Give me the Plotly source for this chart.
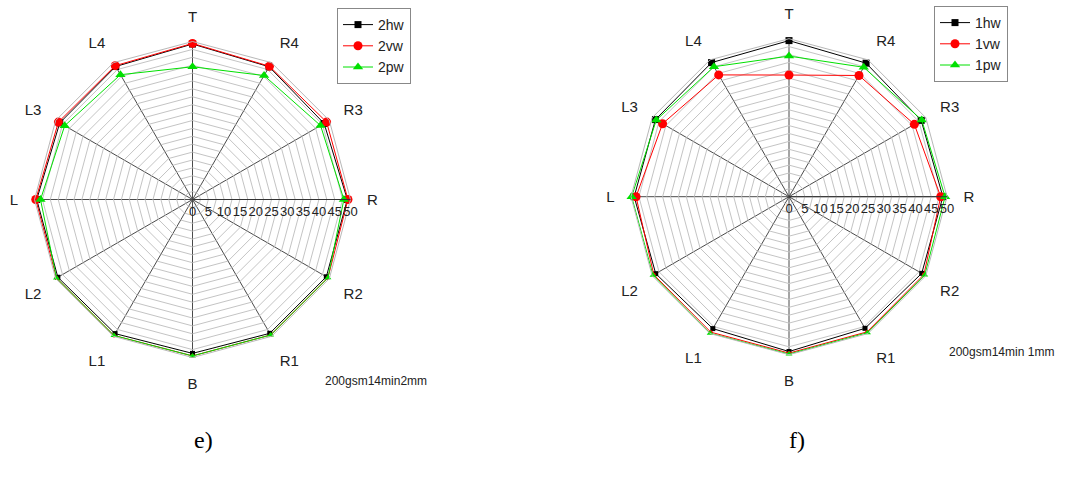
import plotly.graph_objects as go

categories = ["T", "R4", "R3", "R", "R2", "R1", "B", "L1", "L2", "L", "L3", "L4"]
radial_ticks = [0, 2.5, 5, 7.5, 10, 12.5, 15, 17.5, 20, 22.5, 25, 27.5, 30,
                32.5, 35, 37.5, 40, 42.5, 45, 47.5, 50]
radial_text = ["0", "", "5", "", "10", "", "15", "", "20", "", "25", "", "30",
               "", "35", "", "40", "", "45", "", "50"]

e_names = ["2hw", "2vw", "2pw"]
e_hw = [49.2, 48.5, 48.1, 49.0, 48.9, 48.9, 48.7, 49.0, 49.2, 49.3, 48.5, 48.6]
e_vw = [49.4, 48.7, 49.0, 49.2, 49.5, 49.5, 49.5, 49.7, 49.7, 49.6, 49.0, 48.9]
e_pw = [42.0, 45.3, 46.8, 47.9, 49.5, 49.5, 49.5, 49.7, 49.7, 48.1, 46.7, 45.6]

f_names = ["1hw", "1vw", "1pw"]
f_hw = [49.4, 48.8, 48.3, 48.7, 48.5, 48.1, 49.0, 48.2, 48.7, 49.0, 48.8, 49.0]
f_vw = [38.5, 44.3, 45.8, 48.0, 49.3, 49.4, 49.5, 49.5, 49.4, 48.4, 46.2, 44.5]
f_pw = [44.5, 47.3, 48.5, 49.4, 49.6, 49.7, 49.8, 49.9, 49.7, 49.8, 48.5, 47.5]

# marker styling (lower-half markers appear smaller in the reference)
styles = [
    dict(color="#000000", symbol="square", size=7, small=5),
    dict(color="#ff0000", symbol="circle", size=9, small=4),
    dict(color="#00e000", symbol="triangle-up", size=9, small=6),
]

# upper run (L .. L4, T .. R) and lower run (R .. L) in category index order
upper_idx = [9, 10, 11, 0, 1, 2, 3]
lower_idx = [3, 4, 5, 6, 7, 8, 9]

fig = go.Figure()

for names, series, polar, legend in [
    (e_names, [e_hw, e_vw, e_pw], "polar", "legend"),
    (f_names, [f_hw, f_vw, f_pw], "polar2", "legend2"),
]:
    for name, vals, st in zip(names, series, styles):
        fig.add_trace(go.Scatterpolar(
            r=[vals[i] for i in upper_idx], theta=[categories[i] for i in upper_idx],
            name=name, mode="lines+markers", legendgroup=polar + name,
            line=dict(color=st["color"], width=1),
            marker=dict(color=st["color"], symbol=st["symbol"], size=st["size"]),
            subplot=polar, legend=legend,
        ))
        fig.add_trace(go.Scatterpolar(
            r=[vals[i] for i in lower_idx], theta=[categories[i] for i in lower_idx],
            name=name, mode="lines+markers", legendgroup=polar + name, showlegend=False,
            line=dict(color=st["color"], width=1),
            marker=dict(color=st["color"], symbol=st["symbol"], size=st["small"]),
            subplot=polar, legend=legend,
        ))

W, H = 1090, 483

def px(x):
    return x / W

def py(y):
    return 1 - y / H

def dom(cx, cy, rad):
    return dict(x=[px(cx - rad), px(cx + rad)],
                y=[py(cy + rad), py(cy - rad)])

font = "Liberation Sans, Arial, sans-serif"

def polar_layout(d):
    return dict(
        domain=d,
        gridshape="linear",
        bgcolor="white",
        radialaxis=dict(
            range=[0, 50], angle=0, side="clockwise",
            tickvals=radial_ticks, ticktext=radial_text,
            showline=True, linecolor="#333333", linewidth=1,
            gridcolor="#c4c4c4", gridwidth=0.8, ticks="",
            tickfont=dict(family=font, size=13, color="#222"),
            tickangle=0,
        ),
        angularaxis=dict(
            direction="clockwise", rotation=90, type="category",
            categoryarray=categories,
            gridcolor="#4a4a4a", gridwidth=1,
            showline=True, linecolor="#b8b8b8", linewidth=1,
            ticks="outside", ticklen=13, tickcolor="rgba(0,0,0,0)",
            tickfont=dict(family=font, size=15, color="#222"),
        ),
    )

legend_common = dict(
    font=dict(family=font, size=14, color="#222"),
    bordercolor="#888888", borderwidth=1, bgcolor="white",
    xanchor="left", yanchor="top", tracegroupgap=0,
    itemwidth=30,
)

fig.update_layout(
    width=W, height=H,
    margin=dict(l=0, r=0, t=0, b=0),
    paper_bgcolor="white", plot_bgcolor="white",
    polar=polar_layout(dom(192.5, 199.5, 158)),
    polar2=polar_layout(dom(789, 196.7, 158)),
    legend=dict(x=px(337), y=py(8), **legend_common),
    legend2=dict(x=px(934), y=py(6), **legend_common),
    annotations=[
        dict(text="200gsm14min2mm", x=px(323), y=py(381), xref="paper", yref="paper",
             xanchor="left", yanchor="middle", showarrow=False,
             font=dict(family=font, size=12, color="#222")),
        dict(text="200gsm14min 1mm", x=px(947), y=py(352), xref="paper", yref="paper",
             xanchor="left", yanchor="middle", showarrow=False,
             font=dict(family=font, size=12, color="#222")),
        dict(text="e)", x=px(203), y=py(440), xref="paper", yref="paper",
             xanchor="center", yanchor="middle", showarrow=False,
             font=dict(family="Liberation Serif, Times New Roman, serif", size=24, color="#000")),
        dict(text="f)", x=px(797), y=py(440), xref="paper", yref="paper",
             xanchor="center", yanchor="middle", showarrow=False,
             font=dict(family="Liberation Serif, Times New Roman, serif", size=24, color="#000")),
    ],
)

fig.write_html("out.html", config={"displayModeBar": False},
               post_script="document.body.style.margin='0px';")
